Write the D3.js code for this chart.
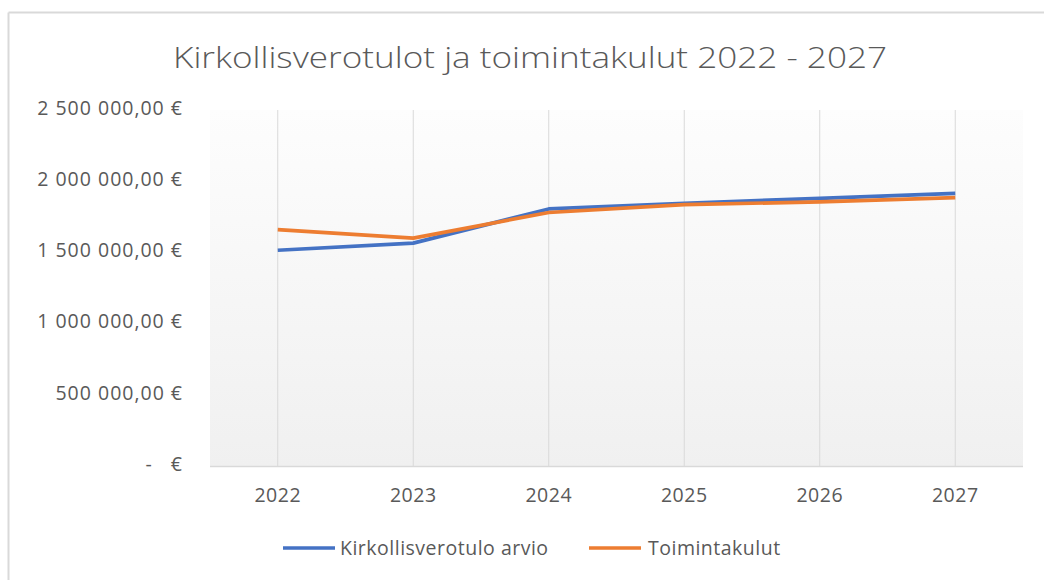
<!DOCTYPE html>
<html>
<head>
<meta charset="utf-8">
<script src="https://cdn.jsdelivr.net/npm/d3@7"></script>
<style>
  html, body { margin: 0; padding: 0; background: #fff; overflow: hidden; }
  svg { display: block; }
  svg text { font-family: "Open Sans", sans-serif; }
  .axis text { fill: #595959; font-size: 19.5px; }
  .axis__y text { letter-spacing: 1px; }
  .axis__x text { letter-spacing: 0.5px; }
  .grid line { stroke: #d9d9d9; stroke-width: 1; }
  .frame line { stroke: #d9d9d9; stroke-width: 2; }
  .serie { fill: none; stroke-width: 3.7; stroke-linejoin: round; }
  .legend text { fill: #595959; font-size: 19.5px; letter-spacing: 0.5px; }
</style>
</head>
<body>
<div class="chart"></div>
<script>
// data
const years = ['2022', '2023', '2024', '2025', '2026', '2027']
const kirkollisverotulo = [1515000, 1565000, 1805000, 1845000, 1880000, 1915000]
const toimintakulut = [1660000, 1600000, 1780000, 1835000, 1855000, 1885000]
const yTicks = [0, 500000, 1000000, 1500000, 2000000, 2500000]

const series = [
    { name: 'Kirkollisverotulo arvio', values: kirkollisverotulo, color: '#4472c4' },
    { name: 'Toimintakulut', values: toimintakulut, color: '#ed7d31' }
]

// finnish euro format
const fi = d3.formatLocale({
    decimal: ',',
    thousands: '\u00a0',
    grouping: [3],
    currency: ['', '\u00a0€']
})
const euro = fi.format('$,.2f')

const width = 1045, height = 581
const margins = { top: 110, right: 22, bottom: 115, left: 210 }
const innerWidth = width - margins.left - margins.right
const innerHeight = height - margins.top - margins.bottom

const root = d3.select('.chart')
    .append('svg')
    .attr('width', width)
    .attr('height', height)

// outer chart frame (left and top edges only are visible in the window)
const frame = root.append('g').attr('class', 'frame')
frame.append('line')
    .attr('x1', 8.5).attr('x2', 8.5)
    .attr('y1', 12.5).attr('y2', height - 1)
frame.append('line')
    .attr('x1', 8.5).attr('x2', width - 1)
    .attr('y1', 12.5).attr('y2', 12.5)

// title
root.append('text')
    .attr('x', 530)
    .attr('y', 68)
    .attr('text-anchor', 'middle')
    .attr('fill', '#595959')
    .attr('font-size', 30)
    .attr('font-weight', 300)
    .attr('textLength', 714)
    .attr('lengthAdjust', 'spacingAndGlyphs')
    .text('Kirkollisverotulot ja toimintakulut 2022 - 2027')

const defs = root.append('defs')
const grad = defs.append('linearGradient')
    .attr('id', 'plotBg')
    .attr('x1', 0).attr('y1', 0).attr('x2', 0).attr('y2', 1)
grad.append('stop').attr('offset', '0%').attr('stop-color', '#fdfdfd')
grad.append('stop').attr('offset', '100%').attr('stop-color', '#f0f0f0')

const svg = root.append('g')
    .attr('transform', `translate(${margins.left}, ${margins.top})`)

svg.append('rect')
    .attr('x', 0).attr('y', 0)
    .attr('width', innerWidth).attr('height', innerHeight + 1)
    .attr('fill', 'url(#plotBg)')

const xScale = d3.scaleBand()
    .domain(years)
    .range([0, innerWidth])

const yScale = d3.scaleLinear()
    .domain([0, 2500000])
    .range([innerHeight, 0])

const xPos = d => xScale(d) + xScale.bandwidth() / 2

// vertical gridlines
svg.append('g')
    .attr('class', 'grid')
    .selectAll('line')
    .data(years)
    .join('line')
    .attr('x1', d => xPos(d)).attr('x2', d => xPos(d))
    .attr('y1', 0).attr('y2', innerHeight)

// bottom axis line
svg.append('line')
    .attr('x1', 0).attr('x2', innerWidth)
    .attr('y1', innerHeight + 0.5).attr('y2', innerHeight + 0.5)
    .attr('stroke', '#d9d9d9')
    .attr('stroke-width', 1.5)

svg.append('g')
    .attr('class', 'axis axis__x')
    .attr('transform', `translate(0, ${innerHeight})`)
    .call(
        d3.axisBottom(xScale)
        .tickSize(0)
        .tickPadding(22)
        )
    .attr('font-family', null)

svg.append('g')
    .attr('class', 'axis axis__y')
    .call(
        d3.axisLeft(yScale)
        .tickValues(yTicks)
        .tickSize(0)
        .tickPadding(27)
        .tickFormat(d => d === 0 ? '-\u00a0\u00a0\u00a0€' : euro(d))
        )
    .attr('font-family', null)
    .selectAll('text')
    .attr('dy', '0.22em')

d3.selectAll('.axis').selectAll('.domain').remove()

const line = d3.line()
    .x((d, i) => xPos(years[i]))
    .y(d => yScale(d))

svg.selectAll('.serie')
    .data(series)
    .join('path')
    .attr('class', 'serie')
    .attr('stroke', d => d.color)
    .attr('d', d => line(d.values))

// legend
const legendItems = [
    { x: 283, textX: 340 },
    { x: 589, textX: 648 }
]
const legend = root.append('g').attr('class', 'legend')
legend.selectAll('line')
    .data(series)
    .join('line')
    .attr('x1', (d, i) => legendItems[i].x)
    .attr('x2', (d, i) => legendItems[i].x + 52)
    .attr('y1', 548).attr('y2', 548)
    .attr('stroke', d => d.color)
    .attr('stroke-width', 3.7)
legend.selectAll('text')
    .data(series)
    .join('text')
    .attr('x', (d, i) => legendItems[i].textX)
    .attr('y', 555)
    .text(d => d.name)
</script>
</body>
</html>
